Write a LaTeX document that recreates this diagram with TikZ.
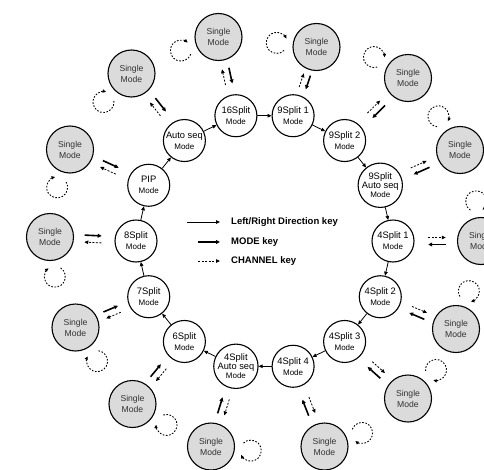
\documentclass[tikz,border=0pt]{standalone}
\usepackage{fontspec}
\setmainfont{Liberation Sans}
\usepackage{tikz}
\usetikzlibrary{arrows.meta, calc}
\definecolor{singlegray}{rgb}{0.86, 0.86, 0.86}
\definecolor{textgray}{rgb}{0.2, 0.2, 0.2}
\newcommand{\modeln}{{\fontsize{8}{9}\selectfont Mode}}
\newcommand{\autoln}{{\fontsize{9.3}{9.5}\selectfont Auto seq}}

\begin{document}
\begin{tikzpicture}[x=1pt, y=1pt,
		mode/.style={circle, draw, line width=1.1pt, fill=white, minimum size=42pt, inner sep=0pt, align=center, font=\fontsize{9.4}{11}\selectfont},
		single/.style={circle, draw, line width=1.1pt, fill=singlegray, minimum size=47pt, inner sep=0pt, align=center, text=textgray, font=\fontsize{8.6}{11}\selectfont},
		dirkey/.style={line width=0.8pt, -{Triangle[length=4pt, width=3.5pt]}},
		modekey/.style={line width=1.6pt, -{Triangle[length=4pt, width=3.8pt]}},
		chkey/.style={line width=0.8pt, dash pattern=on 2pt off 1.5pt, -{Triangle[length=4pt, width=3.5pt]}},
		loopkey/.style={line width=0.9pt, dash pattern=on 1.6pt off 1.6pt, -{Triangle[length=3.5pt, width=3.2pt]}},
		keytxt/.style={anchor=west, inner sep=0pt, font=\bfseries\fontsize{9.5}{11}\selectfont}
	]
	\useasboundingbox (-264.5,-228) rectangle (219.5,241);

	% inner ring
	\node[mode] (m0) at (0:128.5) {4Split 1\\\modeln};
	\node[mode] (m1) at (25.71:128.5) {9Split\\[-2pt]\autoln\\[-2pt]\modeln};
	\node[mode] (m2) at (51.43:128.5) {9Split 2\\\modeln};
	\node[mode] (m3) at (77.14:128.5) {9Split 1\\\modeln};
	\node[mode] (m4) at (102.86:128.5) {16Split\\\modeln};
	\node[mode] (m5) at (128.57:128.5) {\autoln\\\modeln};
	\node[mode] (m6) at (154.29:128.5) {PIP\\\modeln};
	\node[mode] (m7) at (180:128.5) {8Split\\\modeln};
	\node[mode] (m8) at (205.71:128.5) {7Split\\\modeln};
	\node[mode] (m9) at (231.43:128.5) {6Split\\\modeln};
	\node[mode] (m10) at (257.14:128.5) {4Split\\[-2pt]\autoln\\[-2pt]\modeln};
	\node[mode] (m11) at (282.86:128.5) {4Split 4\\\modeln};
	\node[mode] (m12) at (308.57:128.5) {4Split 3\\\modeln};
	\node[mode] (m13) at (334.29:128.5) {4Split 2\\\modeln};

	% outer ring
	\foreach \k/\x/\y in {0/216.5/0, 1/195.5/91, 2/143.5/163, 3/52/194, 4/-46/204, 5/-133/167.5, 6/-194.5/91.5,
		7/-214.5/4, 8/-189/-86.5, 9/-132/-163, 10/-53.5/-205.5, 11/60/-205.5, 12/143.5/-157.5, 13/191.5/-88}
		\node[single] (s\k) at (\x,\y) {Single\\Mode};

	% Left/Right direction
	\foreach \k [evaluate=\k as \j using {int(mod(\k+13,14))}] in {0,...,13}
		\draw[dirkey] (m\k) -- (m\j);

	% MODE / CHANNEL keys and loops
	\foreach \k in {0,...,13} {
		\pgfmathsetmacro\ang{\k*360/14}
		\draw[chkey] ($(m\k)!0.4!(s\k)!3.5pt!90:(s\k)$) -- ($(m\k)!0.6!(s\k)!3.5pt!90:(s\k)$);
		\draw[modekey] ($(m\k)!0.6!(s\k)!3.5pt!-90:(s\k)$) -- ($(m\k)!0.4!(s\k)!3.5pt!-90:(s\k)$);
		\coordinate (c\k) at ($(s\k)+({\ang+97}:40pt)$);
		\draw[loopkey] (c\k) ++({\ang+237}:10.5pt) arc[start angle=\ang+237, end angle=\ang+307-360, radius=10.5pt];
	}

	% legend
	\node[keytxt] (lr) at (-33.5,19) {Left/Right Direction key};
	\node[keytxt] (md) at (-33.5,-1) {MODE key};
	\node[keytxt] (ch) at (-33.5,-20) {CHANNEL key};
	\coordinate (lr0) at (-77.5,19);
	\coordinate (md0) at (-66.5,-1);
	\coordinate (ch0) at (-66.5,-20);
	\draw[dirkey, shorten >=11pt] (lr0) -- (lr.west);
	\draw[modekey, line width=1.4pt, shorten >=11pt] (md0) -- (md.west);
	\draw[chkey, shorten >=11pt] (ch0) -- (ch.west);
\end{tikzpicture}
\end{document}
